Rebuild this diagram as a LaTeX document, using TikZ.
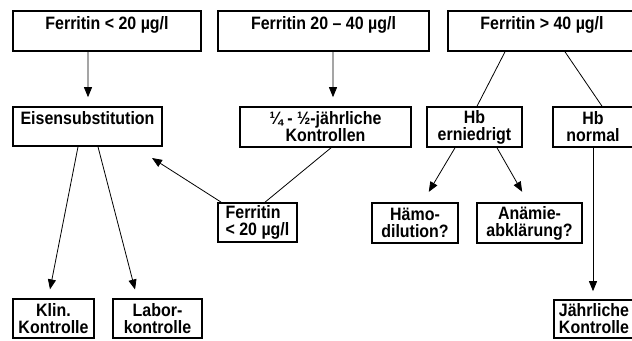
\documentclass[tikz,border=0pt]{standalone}
\usepackage{fontspec}
\setmainfont{Liberation Sans}[FakeStretch=0.89]
\usetikzlibrary{arrows.meta}

\begin{document}
\begin{tikzpicture}[x=1bp, y=-1bp,
    font=\fontsize{18}{17}\selectfont\bfseries,
    box/.style={draw, line width=1.6bp, align=center, minimum height=40bp, inner sep=2bp},
    pfeil/.style={line width=0.8bp, -{Triangle[length=10bp,width=8bp]}, shorten >=9bp},
    linie/.style={line width=0.8bp}]

    \useasboundingbox (0,0) rectangle (632,340);
    \clip (0,0) rectangle (632,340);

    % --- ROW 1: Ferritin-Bereiche ---
    \node[box, minimum width=188bp] (fe1) at (107,31) {Ferritin < 20 µg/l\\~};
    \node[box, minimum width=211bp] (fe2) at (323.5,31) {Ferritin 20 – 40 µg/l\\~};
    \node[box, minimum width=188bp] (fe3) at (542,31) {Ferritin > 40 µg/l\\~};

    % --- ROW 2: Massnahmen ---
    \node[box, minimum width=149bp, minimum height=39bp] (eisen) at (87.5,126.5) {Eisensubstitution\\~};
    \node[box, minimum width=171bp] (kontr) at (325.5,127) {¼ - ½-jährliche\\Kontrollen};
    \node[box, minimum width=95bp] (hbe) at (474.5,127) {Hb\\erniedrigt};
    \node[box, minimum width=80bp] (hbn) at (593,127) {Hb\\normal};

    % --- ROW 3: Verlauf ---
    \node[box, align=left, minimum width=79bp, minimum height=39bp] (fesm) at (257.5,222.5) {Ferritin\\< 20 µg/l};
    \node[box, minimum width=86bp] (haemo) at (415,223) {Hämo-\\dilution?};
    \node[box, minimum width=105bp] (anae) at (529.5,223) {Anämie-\\abklärung?};
    \coordinate (ziel) at (152,158);

    % --- ROW 4: Kontrollen ---
    \node[box, minimum width=81bp, minimum height=39bp] (klin) at (53.5,318.5) {Klin.\\Kontrolle};
    \node[box, minimum width=89bp, minimum height=39bp] (labor) at (157.5,318.5) {Labor-\\kontrolle};
    \node[box, minimum width=80bp, minimum height=38bp] (jaehrl) at (594,319) {Jährliche\\Kontrolle};

    % --- Verbindungen ---
    \draw[pfeil] ([xshift=-19bp]fe1.south) -- ([xshift=0.5bp]eisen.north);
    \draw[pfeil] ([xshift=9.5bp]fe2.south) -- ([xshift=7.5bp]kontr.north);
    \draw[linie] ([xshift=-37bp]fe3.south) -- ([xshift=2.5bp]hbe.north);
    \draw[linie] ([xshift=23bp]fe3.south) -- ([xshift=9bp]hbn.north);

    \draw[pfeil] ([xshift=-9.5bp]eisen.south) -- ([xshift=-5.25bp]klin.north);
    \draw[pfeil] ([xshift=10.5bp]eisen.south) -- ([xshift=-20.2bp]labor.north);
    \draw[linie] ([xshift=5.5bp]kontr.south) -- ([xshift=7.5bp]fesm.north);
    \draw[pfeil, shorten >=0bp] ([xshift=4bp]fesm.north west) -- (ziel);

    \draw[pfeil, shorten >=12bp] ([xshift=-19.5bp]hbe.south) -- ([xshift=7.6bp]haemo.north);
    \draw[pfeil, shorten >=12bp] ([xshift=22.5bp]hbe.south) -- ([xshift=-1.4bp]anae.north);
    \draw[pfeil, shorten >=8bp] (hbn.south) -- ([xshift=-1bp]jaehrl.north);

\end{tikzpicture}
\end{document}
